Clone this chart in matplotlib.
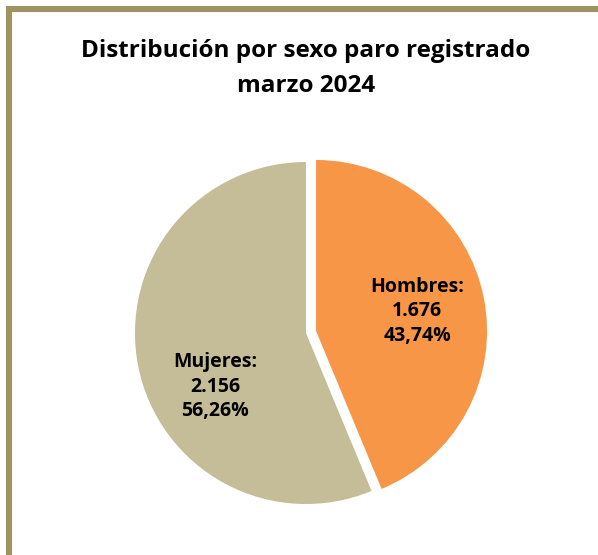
import matplotlib
matplotlib.use("Agg")
import matplotlib.pyplot as plt
from matplotlib.patches import Rectangle

title_lines = ["Distribución por sexo paro registrado", "marzo 2024"]
categories = ["Hombres", "Mujeres"]
counts = [1676, 2156]
pct_labels = ["43,74%", "56,26%"]
count_labels = ["1.676", "2.156"]
colors = ["#F79646", "#C4BD97"]

plt.rcParams['font.family'] = ['Open Sans', 'DejaVu Sans']

W, H = 598, 555
fig = plt.figure(figsize=(W / 100, H / 100), dpi=100)
fig.patch.set_facecolor("white")

# frame
fig.patches.append(Rectangle((9 / W, -0.2), 1.5, (H - 9) / H + 0.2, transform=fig.transFigure,
                             fill=False, edgecolor="#9D9461", linewidth=4.4, zorder=0))

cx, cy, r = 311, 332, 171
ax = fig.add_axes([(cx - r) / W, (H - cy - r) / H, 2 * r / W, 2 * r / H])
wedges, _ = ax.pie(counts, colors=colors, startangle=90, counterclock=False,
                   explode=[0.03, 0.03], wedgeprops=dict(linewidth=0))
for w in wedges:
    w.set_clip_on(False)
ax.set_xlim(-1, 1)
ax.set_ylim(-1, 1)
ax.axis("off")

# label anchor (pixel x centre, first-line baseline), line pitch
label_px = [(417, 292), (215, 367)]
pitch = 24.5
for cat, c, p, (x, y) in zip(categories, count_labels, pct_labels, label_px):
    for i, line in enumerate([f"{cat}:", c, p]):
        fig.text(x / W, 1 - (y + i * pitch) / H, line, ha="center", va="baseline",
                 fontsize=14, fontweight="bold", color="black")

title_base = [57, 92]
for line, yb in zip(title_lines, title_base):
    fig.text(306 / W, 1 - yb / H, line, ha="center", va="baseline", fontsize=17.5,
             fontweight="bold", color="black")

fig.savefig("out.png", dpi=100)
